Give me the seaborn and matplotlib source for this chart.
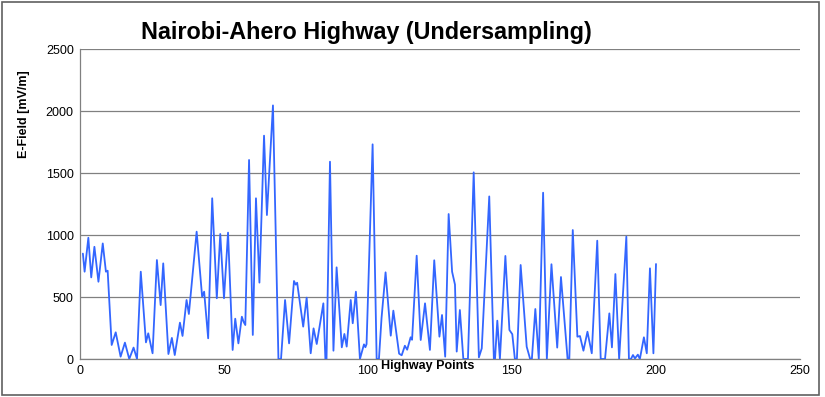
import matplotlib
matplotlib.use("Agg")
import matplotlib.pyplot as plt
import seaborn as sns
import pandas as pd
from matplotlib.patches import Rectangle

# Values (peaks, troughs and shoulders of the curve)
highway_points = [
    1.0, 1.6, 2.9, 3.9, 5.0, 6.4, 7.9, 9.0, 9.6, 11.0, 12.4, 14.1, 15.6, 17.1, 18.6, 19.8,
    21.1, 22.9, 23.7, 25.2, 26.7, 28.0, 28.9, 30.7, 31.9, 32.9, 34.7, 35.6, 37.0, 37.8,
    40.5, 42.4, 43.1, 44.5, 45.9, 47.5, 48.7, 50.0, 51.4, 53.0, 53.9, 55.0, 56.2, 56.8,
    57.4, 58.7, 60.0, 61.1, 62.3, 63.9, 64.9, 67.0, 68.9, 69.8, 71.2, 72.6, 74.3, 74.9,
    75.4, 77.5, 78.7, 80.1, 81.1, 82.2, 84.5, 85.2, 85.6, 86.8, 88.0, 89.1, 90.9, 91.8,
    92.6, 94.0, 94.7, 95.8, 97.2, 98.6, 99.1, 99.5, 101.6, 103.0, 103.8, 104.7, 106.1,
    107.9, 108.8, 110.8, 111.7, 112.8, 113.6, 114.8, 115.3, 116.9, 118.3, 119.8, 121.5,
    123.0, 124.8, 125.7, 126.8, 128.0, 129.2, 130.2, 130.8, 131.9, 133.1, 134.7, 136.7,
    138.5, 139.5, 142.1, 143.7, 144.1, 144.9, 145.8, 147.7, 149.1, 150.1, 151.0, 151.7,
    153.0, 155.1, 156.3, 156.9, 158.1, 159.3, 160.8, 162.1, 163.7, 165.7, 167.0, 169.3,
    169.9, 171.1, 172.7, 173.6, 174.8, 176.2, 177.7, 179.6, 180.8, 182.3, 183.8, 184.7,
    185.9, 187.2, 189.7, 190.6, 191.3, 192.0, 192.7, 193.7, 194.4, 195.8, 196.8, 197.9,
    199.1, 200.0,
]
e_field = [
    850, 704, 978, 658, 905, 623, 932, 704, 712, 113, 215, 19, 132, 0, 92, 0,
    704, 134, 207, 46, 798, 435, 771, 40, 170, 32, 293, 186, 476, 363,
    1027, 503, 543, 167, 1296, 490, 1008, 490, 1019, 73, 325, 126, 341, 300,
    274, 1605, 194, 1296, 616, 1801, 1161, 2045, 0, 0, 476, 126, 629, 600,
    615, 261, 495, 46, 247, 121, 449, 0, 0, 1591, 67, 739, 94, 202,
    100, 476, 288, 543, 0, 118, 95, 120, 1731, 0, 0, 330, 699,
    188, 390, 43, 30, 107, 75, 175, 155, 833, 153, 449, 73,
    796, 180, 355, 19, 1169, 704, 600, 60, 395, 0, 0, 1505,
    13, 86, 1311, 0, 0, 309, 0, 831, 234, 200, 0, 0,
    758, 99, 0, 0, 403, 0, 1341, 0, 764, 92, 661, 0,
    0, 1040, 180, 185, 67, 220, 46, 954, 0, 0, 368, 94,
    685, 0, 987, 0, 0, 32, 5, 35, 0, 175, 46, 731,
    46, 766,
]
x_ticks = [0, 50, 100, 150, 200, 250]
y_ticks = [0, 500, 1000, 1500, 2000, 2500]

title = "Nairobi-Ahero Highway (Undersampling)"
x_label = "Highway Points"
y_label = "E-Field [mV/m]"

sns.set_theme(style="white")
plt.rcParams["font.family"] = ["Liberation Sans", "DejaVu Sans"]
plt.rcParams["text.color"] = "black"
plt.rcParams["axes.labelcolor"] = "black"
plt.rcParams["xtick.color"] = "black"
plt.rcParams["ytick.color"] = "black"

df = pd.DataFrame({"x": highway_points, "y": e_field})

fig = plt.figure(figsize=(8.25, 3.97), dpi=100)
ax = fig.add_axes([80 / 825, 1 - 359 / 397, 720 / 825, 310 / 397])

sns.lineplot(data=df, x="x", y="y", ax=ax, color="#3366ff", linewidth=1.3,
             sort=False, estimator=None, zorder=3)

ax.set_xlim(0, 250)
ax.set_ylim(0, 2500)
ax.set_xticks(x_ticks)
ax.set_yticks(y_ticks)
ax.tick_params(axis="both", labelsize=9, labelcolor="black", length=3, width=0.8,
               pad=1.5, color="#808080")
ax.tick_params(axis="x", length=0, pad=4)
ax.yaxis.grid(True, color="#808080", linewidth=0.9)
ax.xaxis.grid(False)
for side in ["top", "right"]:
    ax.spines[side].set_visible(False)
for side in ["left", "bottom"]:
    ax.spines[side].set_color("#808080")
    ax.spines[side].set_linewidth(0.9)

ax.set_xlabel(x_label, fontsize=9, fontweight="bold", color="black")
ax.xaxis.set_label_coords((428 - 80) / 720, (359 - 366) / 310)
ax.xaxis.label.set_va("center")
ax.set_ylabel(y_label, fontsize=9, fontweight="bold", color="black")
ax.yaxis.set_label_coords((24 - 80) / 720, (359 - 114) / 310)
ax.yaxis.label.set_va("center")

fig.text(366 / 825, 1 - 33 / 397, title, fontsize=16.8, fontweight="bold",
         ha="center", va="center", color="black")

# outer frame of the chart image
fig.patches.append(Rectangle((2 / 825, 2 / 397), 817 / 825, 393 / 397,
                             transform=fig.transFigure, fill=False,
                             edgecolor="#606060", linewidth=1.2))

fig.savefig("out.png", dpi=100)
